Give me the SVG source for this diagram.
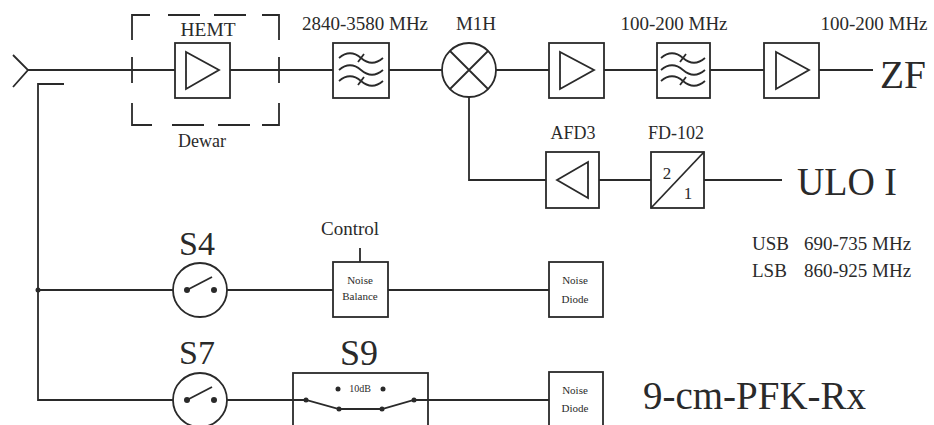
<svg xmlns="http://www.w3.org/2000/svg" width="934" height="425" viewBox="0 0 934 425">
<style>
.l{fill:none;stroke:#2a2a2a;stroke-width:1.8;stroke-linecap:butt}
.b{fill:#fff;stroke:#2a2a2a;stroke-width:1.8}
.t{font-family:"Liberation Serif","Times New Roman",serif;fill:#2a2a2a}
.m{text-anchor:middle}
.d{fill:#2a2a2a}
</style>
<defs>
<g id="wave"><path class="l" d="M-22,0 c7,-6 15,-6 22,0 s15,6 22,0"/></g>
</defs>
<rect width="934" height="425" fill="#fff"/>
<g id="connectors">
<path class="l" d="M13,55 L28,70 L13,87"/>
<path class="l" d="M28,70 H175 M230,70 H333 M389,70 H442 M496,70 H549 M604,70 H657 M710,70 H764 M819,70 H873"/>
<path class="l" d="M64,84 H38 V400 H173 M38,290 H173"/>
<path class="l" d="M469,97 V180 H546 M599,180 H651 M704,180 H782"/>
<path class="l" d="M227,290 H333 M388,290 H549 M360,248 V262"/>
<path class="l" d="M227,400 H306 M414,400 H549"/>
<circle class="d" cx="38" cy="290" r="2.5"/>
</g>
<g id="dewar">
<path class="l" d="M132,40 V15 H150 M168,15 H200 M214,15 H246 M262,15 H279 V40 M132,57 V83 M279,57 V83 M132,103 V125 H152 M172,125 H204 M218,125 H250 M262,125 H279 V103"/>
<text class="t m" x="202" y="147" font-size="18">Dewar</text>
</g>
<g id="hemt">
<rect class="b" x="175" y="43" width="55" height="55"/>
<path class="l" d="M186,52 V89 L219,70 Z"/>
<text class="t m" x="208" y="36" font-size="18" textLength="55" lengthAdjust="spacingAndGlyphs">HEMT</text>
</g>
<g id="filter1">
<rect class="b" x="333" y="43" width="56" height="55"/>
<use href="#wave" x="361" y="58"/><use href="#wave" x="361" y="70"/><use href="#wave" x="361" y="81"/>
<path class="l" d="M358,62 L364,54 M358,85 L364,77"/>
<text class="t m" x="365" y="30" font-size="19">2840-3580 MHz</text>
</g>
<g id="mixer">
<circle class="b" cx="469" cy="70" r="27"/>
<path class="l" d="M450,51 L488,89 M488,51 L450,89"/>
<text class="t m" x="476" y="30" font-size="19">M1H</text>
</g>
<g id="amp1">
<rect class="b" x="549" y="43" width="55" height="55"/>
<path class="l" d="M560,52 V89 L594,70 Z"/>
</g>
<g id="filter2">
<rect class="b" x="657" y="43" width="53" height="55"/>
<use href="#wave" x="683" y="58"/><use href="#wave" x="683" y="70"/><use href="#wave" x="683" y="81"/>
<path class="l" d="M680,62 L686,54 M680,85 L686,77"/>
<text class="t m" x="674" y="30" font-size="19">100-200 MHz</text>
</g>
<g id="amp2">
<rect class="b" x="764" y="43" width="55" height="55"/>
<path class="l" d="M776,52 V89 L809,70 Z"/>
<text class="t m" x="874" y="30" font-size="19">100-200 MHz</text>
</g>
<g id="zf"><text class="t" x="880" y="88" font-size="40" textLength="46" lengthAdjust="spacingAndGlyphs">ZF</text></g>
<g id="afd3">
<rect class="b" x="546" y="152" width="53" height="56"/>
<path class="l" d="M557,180 L588,162 V198 Z"/>
<text class="t m" x="573" y="139" font-size="18">AFD3</text>
</g>
<g id="fd102">
<rect class="b" x="651" y="152" width="53" height="56"/>
<path class="l" d="M651,208 L704,152"/>
<text class="t m" x="667" y="179" font-size="17">2</text>
<text class="t m" x="688" y="199" font-size="17">1</text>
<text class="t m" x="676" y="139" font-size="18">FD-102</text>
</g>
<g id="ulo"><text class="t" x="797" y="195" font-size="40" textLength="100" lengthAdjust="spacingAndGlyphs">ULO I</text></g>
<g id="bands">
<text class="t" x="752" y="250" font-size="19">USB</text><text class="t" x="804" y="250" font-size="19">690-735 MHz</text>
<text class="t" x="752" y="277" font-size="19">LSB</text><text class="t" x="804" y="277" font-size="19">860-925 MHz</text>
</g>
<g id="s4">
<circle class="b" cx="200" cy="290" r="27"/>
<circle class="d" cx="187" cy="290" r="3"/><circle class="d" cx="214" cy="290" r="3"/>
<path class="l" d="M187,290 L212,277"/>
<text class="t m" x="197" y="255" font-size="34">S4</text>
</g>
<g id="s7">
<circle class="b" cx="200" cy="400" r="27"/>
<circle class="d" cx="187" cy="400" r="3"/><circle class="d" cx="214" cy="400" r="3"/>
<path class="l" d="M187,400 L212,387"/>
<text class="t m" x="197" y="364" font-size="34">S7</text>
</g>
<g id="noise-balance">
<rect class="b" x="333" y="262" width="55" height="55"/>
<text class="t m" x="360" y="284" font-size="11">Noise</text>
<text class="t m" x="360" y="300" font-size="11">Balance</text>
<text class="t m" x="350" y="235" font-size="19">Control</text>
</g>
<g id="noise-diode1">
<rect class="b" x="549" y="262" width="54" height="55"/>
<text class="t m" x="575" y="284" font-size="11">Noise</text>
<text class="t m" x="575" y="303" font-size="11">Diode</text>
</g>
<g id="s9">
<rect class="b" x="293" y="373" width="135" height="70"/>
<path class="l" d="M293,400 H306 L339,409 H382 L414,400 H428"/>
<circle class="d" cx="306" cy="400" r="2.5"/><circle class="d" cx="339" cy="409" r="2.5"/>
<circle class="d" cx="382" cy="409" r="2.5"/><circle class="d" cx="414" cy="400" r="2.5"/>
<circle class="d" cx="338" cy="389" r="2.5"/><circle class="d" cx="383" cy="389" r="2.5"/>
<text class="t m" x="360" y="392" font-size="10">10dB</text>
<text class="t m" x="359" y="365" font-size="36">S9</text>
</g>
<g id="noise-diode2">
<rect class="b" x="549" y="372" width="54" height="70"/>
<text class="t m" x="575" y="394" font-size="11">Noise</text>
<text class="t m" x="575" y="412" font-size="11">Diode</text>
</g>
<g id="title"><text class="t" x="643" y="409" font-size="41" textLength="223" lengthAdjust="spacingAndGlyphs">9-cm-PFK-Rx</text></g>
</svg>
